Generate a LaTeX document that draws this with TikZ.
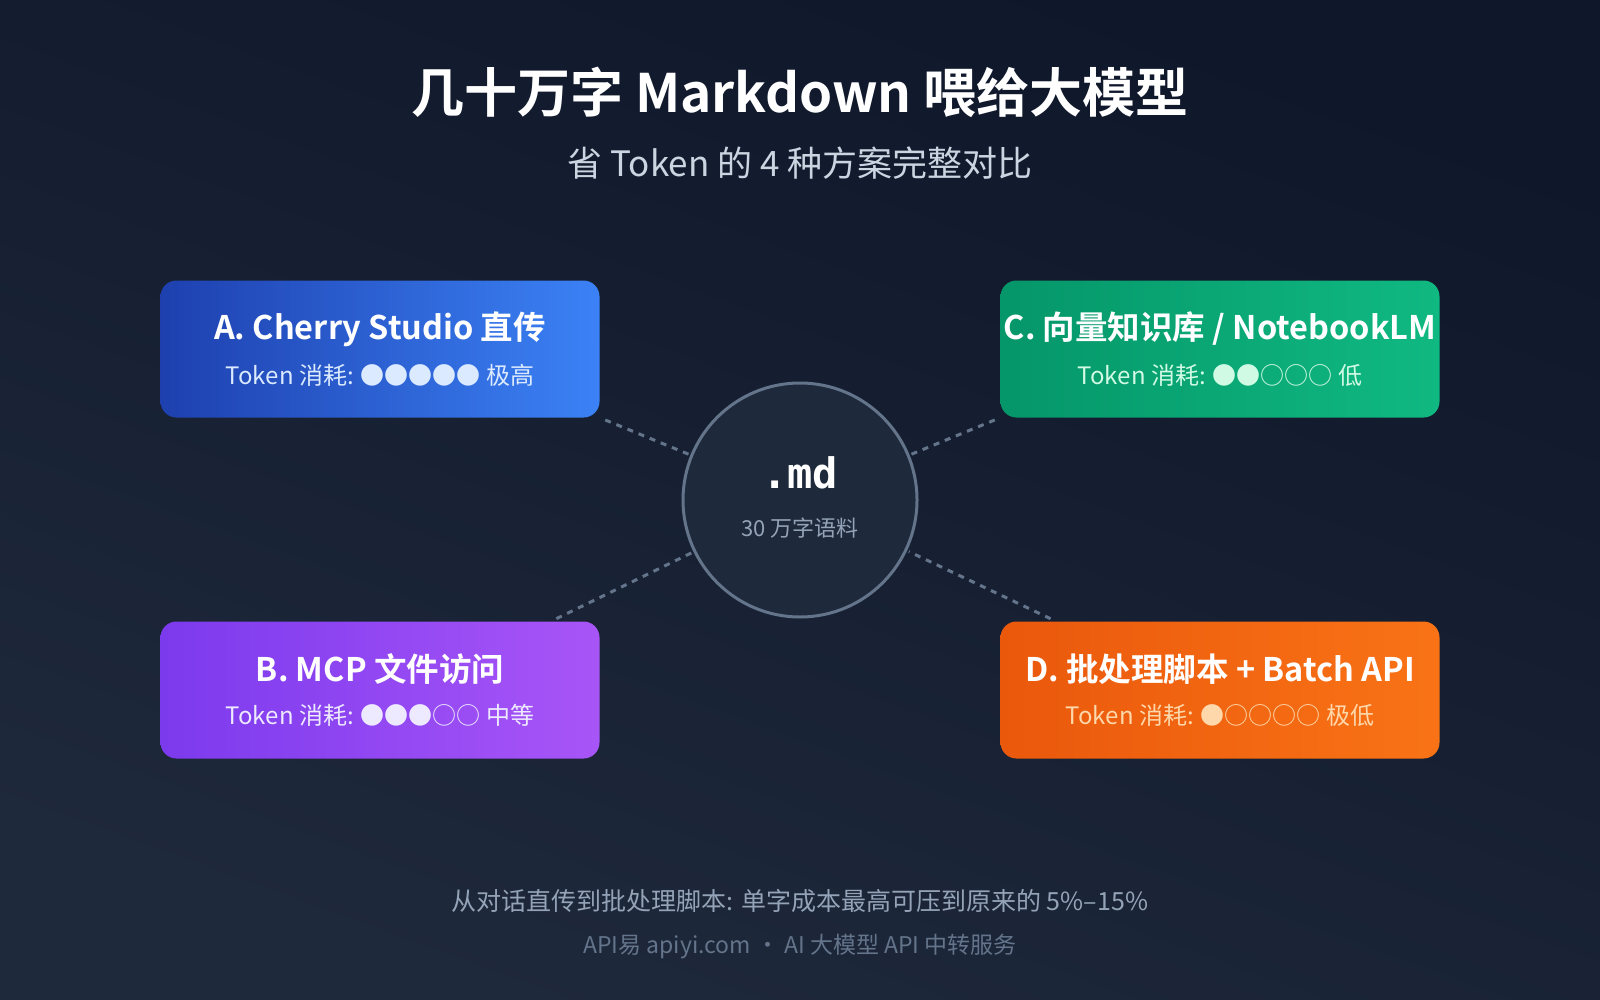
\documentclass[tikz,border=0pt]{standalone}
\usepackage{fontspec}
\setmainfont{Noto Sans CJK SC}
\newfontfamily\cjkb{Noto Sans CJK SC Bold}
\newfontfamily\monob{DejaVu Sans Mono Bold}
\definecolor{bgA}{HTML}{0F172A}\definecolor{bgB}{HTML}{1E293B}
\definecolor{slate}{HTML}{64748B}
\begin{document}
\begin{tikzpicture}[x=1pt,y=-1pt,
 box/.style={rounded corners=16pt,minimum width=439pt,minimum height=137pt,inner sep=0pt,shading angle=-60},
 btitle/.style={text=white,font=\cjkb\fontsize{32.5}{38}\selectfont},
 bsub/.style={font=\fontsize{24}{29}\selectfont},
 link/.style={draw=slate,line width=3pt,dash pattern=on 6pt off 6pt,shorten <=6pt,shorten >=2pt}]
\shade[top color=bgA,bottom color=bgB,shading angle=-20] (0,0) rectangle (1600,1000);
\useasboundingbox (0,0) rectangle (1600,1000);
\node[text=white,font=\cjkb\fontsize{53}{60}\selectfont] (t) at (800,92) {几十万字 Markdown 喂给大模型};
\node[font=\fontsize{35}{42}\selectfont,text={rgb,255:red,203;green,213;blue,225}] (st) at (800,163) {省 Token 的 4 种方案完整对比};
\node[box,shade,left color={rgb,255:red,30;green,64;blue,175},right color={rgb,255:red,59;green,130;blue,246}] (a) at (380,349) {};
\node[box,shade,left color={rgb,255:red,5;green,150;blue,105},right color={rgb,255:red,16;green,185;blue,129}] (cc) at (1220,349) {};
\node[box,shade,left color={rgb,255:red,124;green,58;blue,237},right color={rgb,255:red,168;green,85;blue,247}] (b) at (380,690) {};
\node[box,shade,left color={rgb,255:red,234;green,88;blue,12},right color={rgb,255:red,249;green,115;blue,22}] (d) at (1220,690) {};
\node[circle,minimum size=234pt,fill=bgB,draw=slate,line width=3pt] (c) at (800,500) {};
\coordinate (bn) at ([xshift=171pt]b.north);
\coordinate (dn) at ([xshift=-164pt]d.north);
\draw[link] (a.south east) -- (c);
\draw[link] (cc.south west) -- (c);
\draw[link] (bn) -- (c);
\draw[link] (dn) -- (c);
\node[text=white,font=\monob\fontsize{42}{48}\selectfont] (md) at (800,473) {.md};
\node[font=\fontsize{22}{27}\selectfont,text={rgb,255:red,148;green,163;blue,184}] (mds) at (800,528) {30 万字语料};
\node[btitle] (at) at (380,329) {A. Cherry Studio 直传};
\node[bsub,text={rgb,255:red,219;green,234;blue,254}] (as) at (380,375) {Token 消耗: ●●●●● 极高};
\node[btitle] (ct) at (1220,329) {C. 向量知识库 / NotebookLM};
\node[bsub,text={rgb,255:red,209;green,250;blue,229}] (cs) at (1220,375) {Token 消耗: ●●○○○ 低};
\node[btitle] (bt) at (380,669) {B. MCP 文件访问};
\node[bsub,text={rgb,255:red,237;green,233;blue,254}] (bs) at (380,715) {Token 消耗: ●●●○○ 中等};
\node[btitle] (dt) at (1220,669) {D. 批处理脚本 + Batch API};
\node[bsub,text={rgb,255:red,254;green,215;blue,170}] (ds) at (1220,715) {Token 消耗: ●○○○○ 极低};
\node[font=\fontsize{25}{30}\selectfont,text={rgb,255:red,148;green,163;blue,184}] (f1) at (800,901) {从对话直传到批处理脚本: 单字成本最高可压到原来的 5\%–15\%};
\node[font=\fontsize{23}{28}\selectfont,text=slate] (f2) at (800,947) {API易 apiyi.com · AI 大模型 API 中转服务};
\end{tikzpicture}
\end{document}
